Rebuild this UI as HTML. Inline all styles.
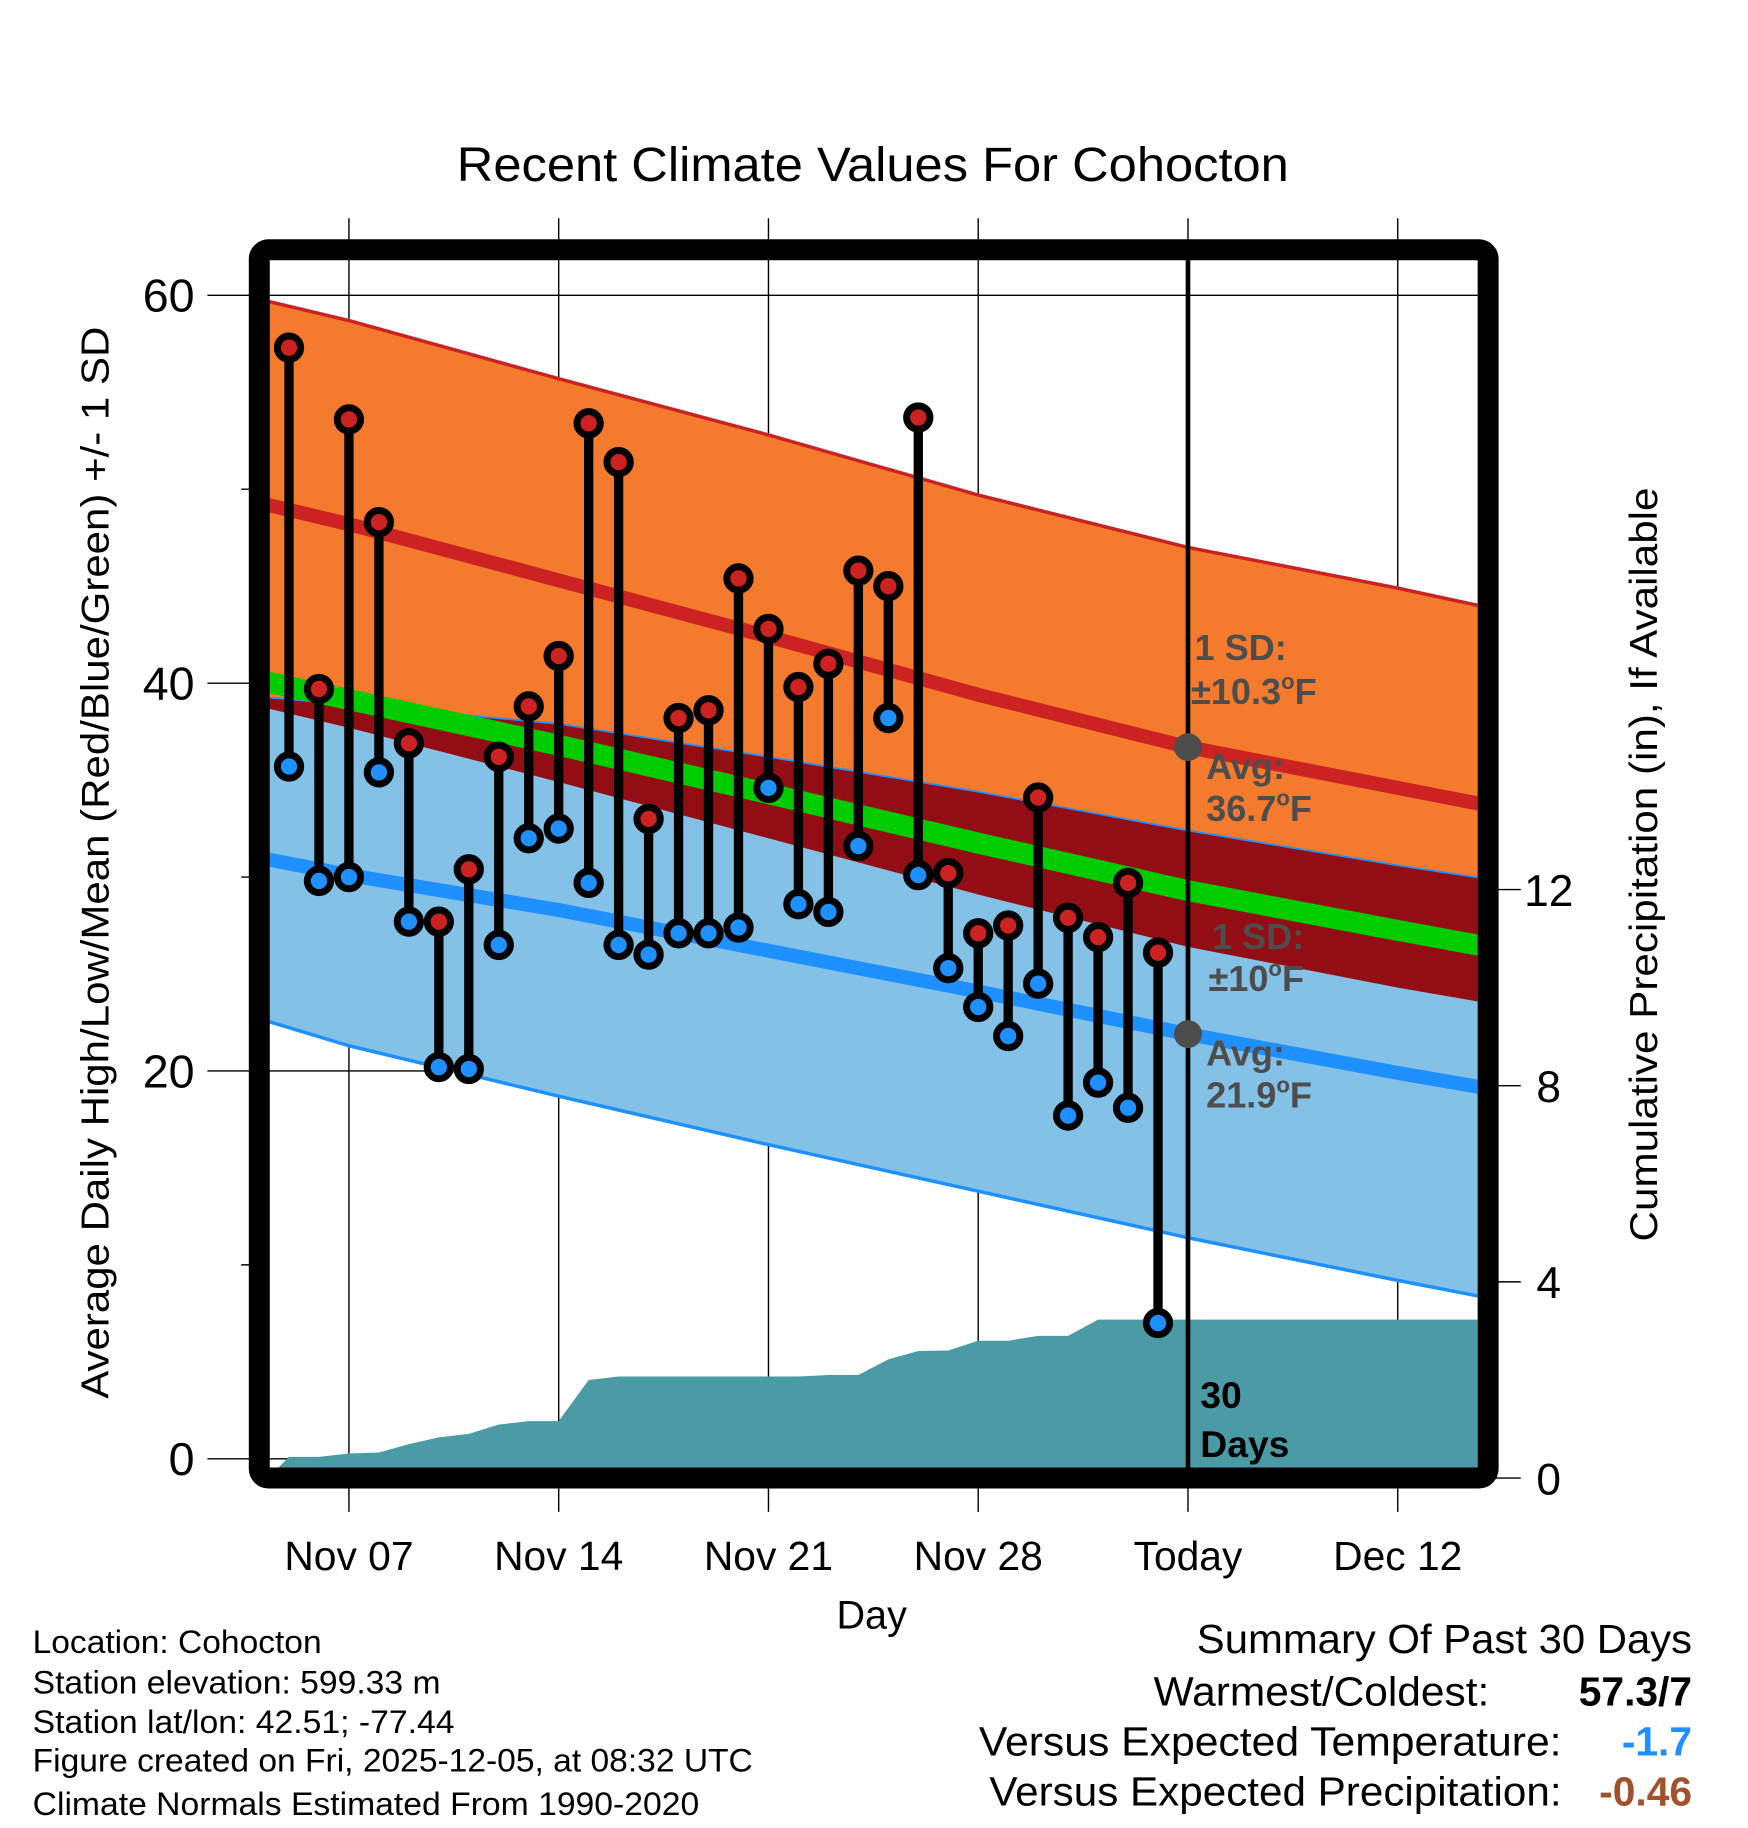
<!DOCTYPE html>
<html><head><meta charset="utf-8"><style>
html,body{margin:0;padding:0;background:#fff;}
svg{display:block;font-family:"Liberation Sans",Arial,sans-serif;}
</style></head><body>
<svg id="chart" xmlns="http://www.w3.org/2000/svg" width="1748" height="1828" viewBox="0 0 1500 1568">
<rect x="0" y="0" width="1500" height="1568" fill="#fff"/>
<text x="392" y="155" font-size="41" textLength="714" lengthAdjust="spacingAndGlyphs">Recent Climate Values For Cohocton</text>
<defs><clipPath id="plotclip"><rect x="231" y="223" width="1037" height="1036"/></clipPath></defs>
<g id="gridg"></g>
<g id="plotg" clip-path="url(#plotclip)"></g>
<g id="axesg"></g>
<g id="markg"></g>
<rect x="222.5" y="214" width="1054.5" height="1054" rx="8" fill="none" stroke="#000" stroke-width="18"/>
<text x="748" y="1397" font-size="34" text-anchor="middle">Day</text>
<text transform="translate(93,1200) rotate(-90)" font-size="33" textLength="920" lengthAdjust="spacingAndGlyphs">Average Daily High/Low/Mean (Red/Blue/Green) +/- 1 SD</text>
<text transform="translate(1422,1065) rotate(-90)" font-size="33" textLength="647" lengthAdjust="spacingAndGlyphs">Cumulative Precipitation (in), If Available</text>
<g font-size="28">
<text x="28" y="1418" textLength="248" lengthAdjust="spacingAndGlyphs">Location: Cohocton</text>
<text x="28" y="1453" textLength="350" lengthAdjust="spacingAndGlyphs">Station elevation: 599.33 m</text>
<text x="28" y="1487" textLength="362" lengthAdjust="spacingAndGlyphs">Station lat/lon: 42.51; -77.44</text>
<text x="28" y="1520" textLength="618" lengthAdjust="spacingAndGlyphs">Figure created on Fri, 2025-12-05, at 08:32 UTC</text>
<text x="28" y="1557" textLength="572" lengthAdjust="spacingAndGlyphs">Climate Normals Estimated From 1990-2020</text>
</g>
<g font-size="35">
<text x="1027" y="1418" textLength="425" lengthAdjust="spacingAndGlyphs">Summary Of Past 30 Days</text>
<text x="990" y="1463" textLength="288" lengthAdjust="spacingAndGlyphs">Warmest/Coldest:</text>
<text x="1452" y="1463" text-anchor="end" font-weight="bold">57.3/7</text>
<text x="840" y="1506" textLength="500" lengthAdjust="spacingAndGlyphs">Versus Expected Temperature:</text>
<text x="1452" y="1506" text-anchor="end" font-weight="bold" fill="#1e90ff">-1.7</text>
<text x="849" y="1549" textLength="491" lengthAdjust="spacingAndGlyphs">Versus Expected Precipitation:</text>
<text x="1452" y="1549" text-anchor="end" font-weight="bold" fill="#a0522d">-0.46</text>
</g>
</svg>
<script>
// ---- data ----
const days = ["Nov 05","Nov 06","Nov 07","Nov 08","Nov 09","Nov 10","Nov 11","Nov 12","Nov 13","Nov 14","Nov 15","Nov 16","Nov 17","Nov 18","Nov 19","Nov 20","Nov 21","Nov 22","Nov 23","Nov 24","Nov 25","Nov 26","Nov 27","Nov 28","Nov 29","Nov 30","Dec 01","Dec 02","Dec 03","Dec 04"];
const highs = [57.3,39.7,53.6,48.3,36.9,27.7,30.4,36.2,38.8,41.4,53.4,51.4,33.0,38.2,38.6,45.4,42.8,39.8,41.0,45.8,45.0,53.7,30.2,27.1,27.5,34.1,27.9,26.9,29.7,26.1];
const lows = [35.7,29.8,30.0,35.4,27.7,20.2,20.1,26.5,32.0,32.5,29.7,26.5,26.0,27.1,27.1,27.4,34.6,28.6,28.2,31.6,38.2,30.1,25.3,23.3,21.8,24.5,17.7,19.4,18.1,7.0];
const precip = [0.43,0.43,0.50,0.52,0.69,0.83,0.90,1.09,1.16,1.16,2.00,2.07,2.07,2.07,2.07,2.07,2.07,2.07,2.10,2.10,2.42,2.59,2.60,2.80,2.80,2.90,2.90,3.23,3.23,3.23];
// normals at day offsets from Nov 05
const normDays = [-1,2,9,16,23,30,37,40];
const normHigh = [49.3,48.2,45.3,42.4,39.4,36.7,34.6,33.7];
const normHighSD = [10.5,10.5,10.4,10.4,10.3,10.3,10.3,10.2];
const normLow = [31.0,30.1,28.3,26.2,24.1,21.9,19.9,19.1];
const normLowSD = [8.3,8.8,9.6,10.0,10.3,10.5,10.7,10.8];
const xTickLabels = ["Nov 07","Nov 14","Nov 21","Nov 28","Today","Dec 12"];
const xTickDays = [2,9,16,23,30,37];
const yTicks = [0,20,40,60];
const yMinor = [10,30,50];
const pTicks = [0,4,8,12];

// ---- scales ----
const X0 = 248, DW = 180/7;
const x = d => X0 + d*DW;
const y = v => 1251.5 - v*16.64;
const py = p => 1268 - p*42.08;
const NS = "http://www.w3.org/2000/svg";
function mk(tag, attrs, parent){const e=document.createElementNS(NS,tag);for(const k in attrs)e.setAttribute(k,attrs[k]);parent.appendChild(e);return e;}
const grid=document.getElementById('gridg'), plot=document.getElementById('plotg'), axes=document.getElementById('axesg'), marks=document.getElementById('markg');

xTickDays.forEach((d,i)=>{
  const l=mk('line',{x1:x(d),x2:x(d),y1:187,y2:1297,stroke:'#000','stroke-width':1.2},grid);
  
  
  const t=mk('text',{x:x(d),y:1347,'font-size':35,'text-anchor':'middle'},axes);
  t.textContent=xTickLabels[i];
  
  
});
yTicks.forEach(v=>{
  const l=mk('line',{x1:178,x2:1268,y1:y(v),y2:y(v),stroke:'#000','stroke-width':1.2},grid);
  
  
  const t=mk('text',{x:167,y:y(v)+14,'font-size':40,'text-anchor':'end'},axes);
  t.textContent=v;
  
  
});
yMinor.forEach(v=>{
  const l=mk('line',{x1:207,x2:222,y1:y(v),y2:y(v),stroke:'#000','stroke-width':1.2},grid);
  
  
});
pTicks.forEach(p=>{
  const l=mk('line',{x1:1277,x2:1305,y1:py(p),y2:py(p),stroke:'#000','stroke-width':1.2},axes);
  
  
  const t=mk('text',{x:1329,y:py(p)+14,'font-size':38,'text-anchor':'middle'},axes);
  t.textContent=p;
  
  
});

const hiTop = normHigh.map((m,i)=>m+normHighSD[i]);
const hiBot = normHigh.map((m,i)=>m-normHighSD[i]);
const loTop = normLow.map((m,i)=>m+normLowSD[i]);
const loBot = normLow.map((m,i)=>m-normLowSD[i]);
const avg = normHigh.map((m,i)=>(m+normLow[i])/2);
const pts = arr => arr.map((v,i)=>x(normDays[i])+','+y(v));
function band(top,bot,fill,name){
  const p=mk('polygon',{points:pts(top).concat(pts(bot).reverse()).join(' '),fill:fill},plot);
  
  
}
function line(arr,color,w,name){
  const p=mk('polyline',{points:pts(arr).join(' '),fill:'none',stroke:color,'stroke-width':w,'stroke-linejoin':'round'},plot);
  
  
}
band(hiTop,hiBot,'#f47a2e','high-sd-band');
band(loTop,loBot,'#83c1e6','low-sd-band');
band(loTop,loTop.map((v,i)=>Math.min(v,hiBot[i])),'#930d15','overlap-band');
line(hiTop,'#cc2222',3,'high-upper-sd-line');
line(loBot,'#1e90ff',3,'low-lower-sd-line');
line(loTop,'#1e90ff',1.5,'low-upper-sd-line');
line(avg,'#00cc00',18,'mean-line');
line(normHigh,'#cc2222',12,'normal-high-line');
line(normLow,'#1e90ff',12,'normal-low-line');

const pp=[ (x(-0.7))+','+py(0) ];
precip.forEach((p,i)=>pp.push(x(i)+','+py(p)));
pp.push(x(40)+','+py(precip[precip.length-1]));
pp.push(x(40)+','+py(0));
const area=mk('polygon',{points:pp.join(' '),fill:'#4a9ba6'},plot);



const tl=mk('line',{x1:x(30),x2:x(30),y1:218,y2:1264,stroke:'#000','stroke-width':4},plot);



const gi = normDays.indexOf(30);
[[normHigh[gi],'high'],[normLow[gi],'low']].forEach(a=>{
  const c=mk('circle',{cx:x(30),cy:y(a[0]),r:12,fill:'#4d4d4d'},plot);
  
  
});
const ann=[["1 SD:",1025,566,null],["±10.3",1022,604,"F"],["Avg:",1035,668,null],["36.7",1035,704,"F"],
["1 SD:",1040,814,null],["±10",1037,850,"F"],["Avg:",1035,914,null],["21.9",1035,950,"F"]];
ann.forEach(a=>{
  const t=mk('text',{x:a[1],y:a[2],'font-size':31,'font-weight':'bold',fill:'#4d4d4d'},plot);
  t.textContent=a[0];
  if(a[3]){const s=mk('tspan',{'font-size':19,dy:-13},t);s.textContent='o';const f=mk('tspan',{dy:13},t);f.textContent=a[3];}
  
  
});
[["30",1208],["Days",1250]].forEach(a=>{
  const t=mk('text',{x:1030,y:a[1],'font-size':32,'font-weight':'bold'},plot);
  t.textContent=a[0];
  
  
});

highs.forEach((h,i)=>{
  const l=mk('line',{x1:x(i),x2:x(i),y1:y(h),y2:y(lows[i]),stroke:'#000','stroke-width':8},marks);
  
  
});
highs.forEach((h,i)=>{
  const c1=mk('circle',{cx:x(i),cy:y(h),r:10,fill:'#cc2222',stroke:'#000','stroke-width':6},marks);
  
  
  const c2=mk('circle',{cx:x(i),cy:y(lows[i]),r:10,fill:'#1e90ff',stroke:'#000','stroke-width':6},marks);
  
  
});
</script>
</body></html>
